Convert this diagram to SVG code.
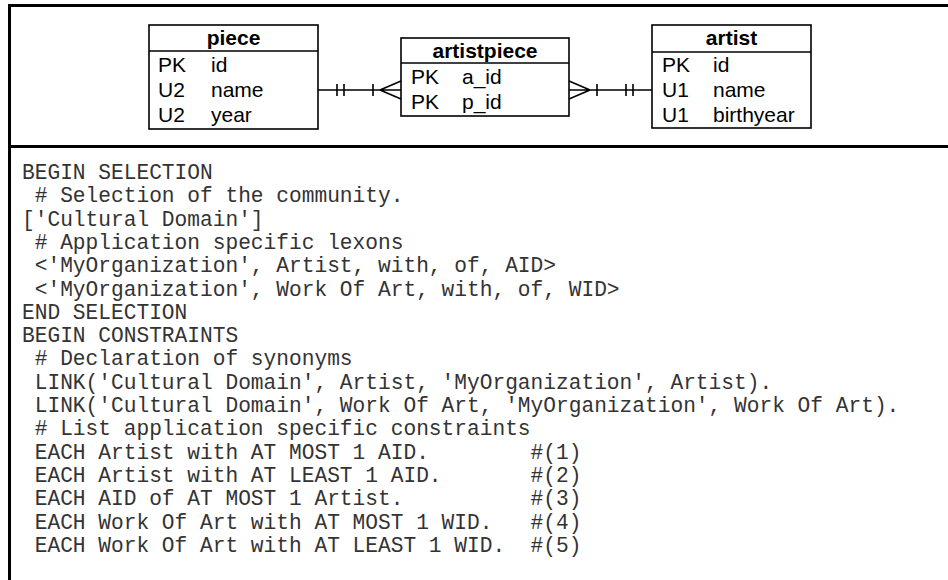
<svg xmlns="http://www.w3.org/2000/svg" width="948" height="580" viewBox="0 0 948 580">
<style>
.frame{stroke:#000;stroke-width:3;fill:none}
.box{fill:#fff;stroke:#000;stroke-width:1.6}
.sep{stroke:#000;stroke-width:1.6}
.hd{font-family:"Liberation Sans",Arial,sans-serif;font-size:21px;font-weight:bold;text-anchor:middle;fill:#000}
.fld{font-family:"Liberation Sans",Arial,sans-serif;font-size:21px;fill:#000}
.cn{stroke:#000;stroke-width:1.6;fill:none}
.code{font-family:"Liberation Mono","Courier New",monospace;font-size:21.2px;fill:#333;white-space:pre}
</style>
<rect width="948" height="580" fill="#fff"/>
<g id="frame">
<path class="frame" d="M9.5,580 V5.5 H948"/>
<path class="frame" d="M9.5,146.5 H948"/>
</g>
<g id="piece">
<rect class="box" x="149" y="25" width="169" height="104"/>
<line class="sep" x1="149" y1="51" x2="318" y2="51"/>
<text class="hd" x="233.5" y="45">piece</text>
<text class="fld" x="158" y="72">PK</text><text class="fld" x="211" y="72">id</text>
<text class="fld" x="158" y="97">U2</text><text class="fld" x="211" y="97">name</text>
<text class="fld" x="158" y="122">U2</text><text class="fld" x="211" y="122">year</text>
</g>
<g id="artistpiece">
<rect class="box" x="401" y="38" width="168" height="78"/>
<line class="sep" x1="401" y1="63" x2="569" y2="63"/>
<text class="hd" x="485" y="58">artistpiece</text>
<text class="fld" x="411" y="84">PK</text><text class="fld" x="462" y="84">a_id</text>
<text class="fld" x="411" y="109">PK</text><text class="fld" x="462" y="109">p_id</text>
</g>
<g id="artist">
<rect class="box" x="652" y="25" width="159" height="103"/>
<line class="sep" x1="652" y1="52" x2="811" y2="52"/>
<text class="hd" x="731.5" y="45">artist</text>
<text class="fld" x="662" y="72">PK</text><text class="fld" x="713" y="72">id</text>
<text class="fld" x="662" y="97">U1</text><text class="fld" x="713" y="97">name</text>
<text class="fld" x="662" y="122">U1</text><text class="fld" x="713" y="122">birthyear</text>
</g>
<g id="connectors">
<path class="cn" d="M318,90 H401 M337,84 V96 M344,84 V96 M373,84 V96 M380,90 L401,81 M380,90 L401,99"/>
<path class="cn" d="M569,90 H652 M633,84 V96 M626,84 V96 M597,84 V96 M590,90 L569,81 M590,90 L569,99"/>
</g>
<g id="code">
<text class="code" x="22" y="179">BEGIN SELECTION</text>
<text class="code" x="22" y="202.3"> # Selection of the community.</text>
<text class="code" x="22" y="225.6">['Cultural Domain']</text>
<text class="code" x="22" y="248.9"> # Application specific lexons</text>
<text class="code" x="22" y="272.2"> &lt;'MyOrganization', Artist, with, of, AID&gt;</text>
<text class="code" x="22" y="295.5"> &lt;'MyOrganization', Work Of Art, with, of, WID&gt;</text>
<text class="code" x="22" y="318.8">END SELECTION</text>
<text class="code" x="22" y="342.1">BEGIN CONSTRAINTS</text>
<text class="code" x="22" y="365.4"> # Declaration of synonyms</text>
<text class="code" x="22" y="388.7"> LINK('Cultural Domain', Artist, 'MyOrganization', Artist).</text>
<text class="code" x="22" y="412"> LINK('Cultural Domain', Work Of Art, 'MyOrganization', Work Of Art).</text>
<text class="code" x="22" y="435.3"> # List application specific constraints</text>
<text class="code" x="22" y="458.6"> EACH Artist with AT MOST 1 AID.        #(1)</text>
<text class="code" x="22" y="481.9"> EACH Artist with AT LEAST 1 AID.       #(2)</text>
<text class="code" x="22" y="505.2"> EACH AID of AT MOST 1 Artist.          #(3)</text>
<text class="code" x="22" y="528.5"> EACH Work Of Art with AT MOST 1 WID.   #(4)</text>
<text class="code" x="22" y="551.8"> EACH Work Of Art with AT LEAST 1 WID.  #(5)</text>
</g>
</svg>
